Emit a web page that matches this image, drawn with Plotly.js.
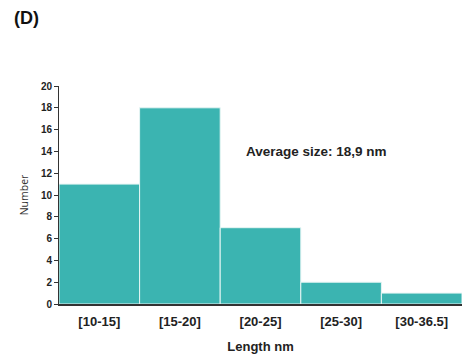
<!DOCTYPE html>
<html>
<head>
<meta charset="utf-8">
<script src="https://cdn.plot.ly/plotly-3.0.1.min.js"></script>
<style>
  html, body { margin: 0; padding: 0; background: #ffffff; }
  #chart { width: 465px; height: 361px; }
</style>
</head>
<body>
<div id="chart"></div>
<script>
// Length distribution (nm) of the particles
const bins = ['[10-15]', '[15-20]', '[20-25]', '[25-30]', '[30-36.5]'];
const counts = [11, 18, 7, 2, 1];
const yTicks = [0, 2, 4, 6, 8, 10, 12, 14, 16, 18, 20];

const trace = {
  type: 'bar',
  x: bins,
  y: counts,
  marker: {
    color: '#3bb4b1',
    line: { color: '#e6f5f4', width: 1 }
  },
  hoverinfo: 'x+y'
};

const layout = {
  width: 465,
  height: 361,
  margin: { l: 59, r: 3, t: 86, b: 57 },
  paper_bgcolor: '#ffffff',
  plot_bgcolor: '#ffffff',
  bargap: 0,
  showlegend: false,
  font: { family: 'Liberation Sans, Arial, sans-serif', color: '#222222' },
  xaxis: {
    type: 'category',
    range: [-0.5, 4.5],
    showgrid: false,
    zeroline: false,
    showline: true,
    linecolor: '#333333',
    linewidth: 1.5,
    ticks: '',
    tickfont: { size: 13, family: 'Liberation Sans, Arial, sans-serif', color: '#222222', weight: 'bold' },
    ticklabelstandoff: 5,
    title: {
      text: '<b>Length nm</b>',
      font: { size: 13, color: '#222222' },
      standoff: 14
    }
  },
  yaxis: {
    range: [0, 20],
    tickvals: yTicks,
    showgrid: false,
    zeroline: false,
    showline: true,
    linecolor: '#333333',
    linewidth: 1,
    ticks: 'outside',
    ticklen: 4,
    tickcolor: '#333333',
    tickfont: { size: 10, family: 'Liberation Sans, Arial, sans-serif', color: '#222222', weight: 'bold' },
    title: {
      text: 'Number',
      font: { size: 10.5, family: 'Open Sans, sans-serif', color: '#333333' },
      standoff: 10
    }
  },
  annotations: [
    {
      text: '<b>(D)</b>',
      xref: 'paper', yref: 'paper',
      x: -59 / 403, y: 1 + 68 / 218,
      xanchor: 'left', yanchor: 'middle',
      xshift: 12,
      showarrow: false,
      font: { size: 18, color: '#111111' }
    },
    {
      text: '<b>Average size: 18,9 nm</b>',
      xref: 'paper', yref: 'paper',
      x: (244 - 59) / 403, y: (304 - 151) / 218,
      xanchor: 'left', yanchor: 'middle',
      showarrow: false,
      font: { size: 13.5, color: '#222222' }
    }
  ]
};

Plotly.newPlot('chart', [trace], layout, { displayModeBar: false, staticPlot: true });
</script>
</body>
</html>
